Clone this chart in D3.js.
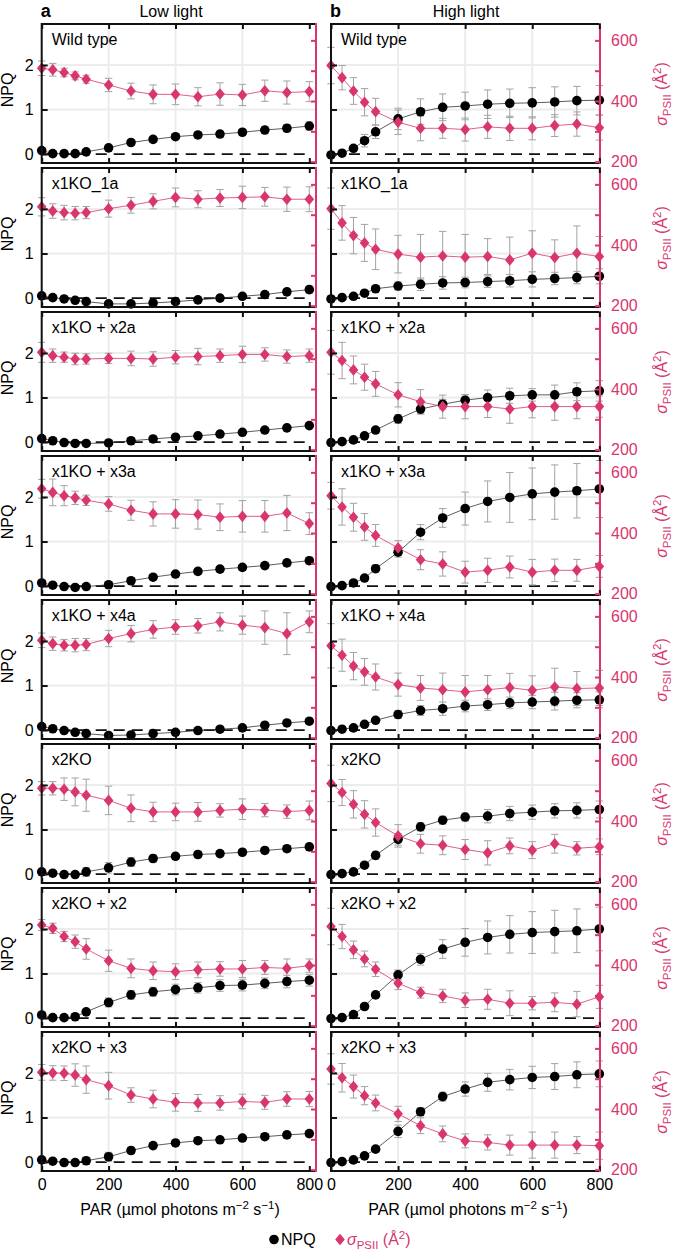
<!DOCTYPE html>
<html>
<head>
<meta charset="utf-8">
<script src="https://cdn.jsdelivr.net/npm/d3@7"></script>
<style>
body { margin: 0; background: #fff; }
text { font-family: "Liberation Sans", Arial, sans-serif; }
</style>
</head>
<body>
<svg id="chart" width="675" height="1250"></svg>
<script>
// light intensities (PAR)
var par = [0, 33, 67, 100, 133, 200, 267, 333, 400, 467, 533, 600, 667, 733, 800];
var strains = ["Wild type", "x1KO_1a", "x1KO + x2a", "x1KO + x3a", "x1KO + x4a", "x2KO", "x2KO + x2", "x2KO + x3"];

// low light, NPQ
var lowNPQ = [
  [0.08,0.01,0.01,0.01,0.05,0.14,0.26,0.33,0.39,0.43,0.45,0.49,0.54,0.58,0.63],
  [0.05,0.01,-0.02,-0.05,-0.08,-0.13,-0.13,-0.11,-0.08,-0.04,0,0.04,0.08,0.14,0.19],
  [0.08,0.03,-0.01,-0.03,-0.03,-0.02,0.03,0.07,0.11,0.14,0.18,0.22,0.27,0.32,0.37],
  [0.07,0.02,-0.01,-0.03,-0.01,0.03,0.12,0.2,0.27,0.33,0.38,0.42,0.46,0.52,0.57],
  [0.08,0.03,-0.01,-0.05,-0.08,-0.12,-0.11,-0.08,-0.05,-0.01,0.02,0.05,0.11,0.16,0.2],
  [0.05,0.02,-0.01,-0.01,0.05,0.14,0.27,0.35,0.4,0.44,0.46,0.49,0.53,0.57,0.61],
  [0.07,0.01,0.01,0.03,0.14,0.35,0.52,0.59,0.64,0.68,0.73,0.74,0.78,0.82,0.85],
  [0.05,0.02,-0.01,-0.01,0.03,0.12,0.26,0.37,0.43,0.48,0.5,0.54,0.57,0.61,0.64]
];
var lowNPQErr = [
  [0.02,0.01,0.01,0.01,0.02,0.04,0.05,0.06,0.06,0.06,0.07,0.07,0.08,0.08,0.09],
  [0.02,0.01,0.01,0.02,0.02,0.03,0.03,0.03,0.03,0.03,0.04,0.05,0.06,0.07,0.08],
  [0.02,0.01,0.01,0.01,0.01,0.02,0.02,0.03,0.03,0.03,0.03,0.03,0.04,0.04,0.05],
  [0.02,0.01,0.01,0.01,0.01,0.02,0.04,0.05,0.05,0.06,0.06,0.06,0.07,0.07,0.08],
  [0.02,0.01,0.01,0.01,0.02,0.02,0.02,0.03,0.03,0.03,0.03,0.03,0.04,0.04,0.05],
  [0.02,0.01,0.02,0.03,0.1,0.12,0.1,0.08,0.07,0.07,0.06,0.07,0.07,0.07,0.08],
  [0.02,0.01,0.02,0.03,0.05,0.1,0.1,0.1,0.12,0.12,0.13,0.13,0.12,0.14,0.13],
  [0.02,0.01,0.02,0.03,0.08,0.1,0.07,0.06,0.06,0.06,0.06,0.06,0.06,0.07,0.07]
];
// low light, sigma PSII (A^2)
var lowSigma = [
  [508,503,494,483,472,453,433,422,422,414,423,420,434,428,431],
  [526,512,507,505,507,520,531,544,557,551,555,557,559,551,551],
  [521,510,505,499,499,501,501,499,505,507,510,514,514,507,510],
  [546,534,523,516,508,496,475,463,463,461,452,455,455,466,431],
  [521,510,505,505,507,527,543,557,565,569,582,571,563,543,582],
  [508,508,505,496,485,468,442,430,430,430,435,439,436,431,435],
  [532,521,494,477,453,414,389,381,378,384,387,387,392,389,398],
  [521,519,518,512,497,477,446,433,422,420,420,425,422,433,433]
];
var lowSigmaErr = [
  [24,21,14,13,13,22,26,31,34,30,37,35,35,38,33],
  [30,24,24,22,20,28,26,25,31,28,28,37,31,40,41],
  [33,22,17,19,17,17,24,24,22,27,22,27,22,22,22],
  [31,44,33,22,17,24,33,40,47,48,44,52,52,58,36],
  [24,22,19,22,20,27,27,29,24,24,30,30,55,69,36],
  [22,22,37,46,53,47,44,32,29,31,22,34,22,22,31],
  [18,17,17,22,34,35,31,29,26,26,24,28,23,31,22],
  [26,24,24,37,45,44,24,29,29,28,24,24,23,24,25]
];

// high light, NPQ
var highNPQ = [
  [-0.02,0.02,0.13,0.3,0.5,0.79,0.95,1.05,1.08,1.12,1.14,1.15,1.17,1.2,1.21],
  [-0.02,0.01,0.04,0.11,0.21,0.27,0.31,0.34,0.35,0.37,0.39,0.42,0.44,0.46,0.49],
  [-0.01,0.01,0.05,0.14,0.27,0.52,0.74,0.85,0.94,1.0,1.04,1.06,1.06,1.13,1.15],
  [-0.01,0.01,0.07,0.18,0.39,0.76,1.21,1.53,1.74,1.9,1.99,2.07,2.11,2.14,2.18],
  [-0.01,0.02,0.05,0.13,0.22,0.35,0.44,0.48,0.54,0.57,0.61,0.63,0.65,0.67,0.68],
  [-0.01,0.01,0.05,0.2,0.42,0.78,1.06,1.21,1.28,1.3,1.36,1.39,1.42,1.43,1.45],
  [-0.01,0.01,0.08,0.26,0.52,0.97,1.32,1.55,1.7,1.81,1.88,1.92,1.94,1.96,2.0],
  [-0.01,0.01,0.05,0.14,0.29,0.69,1.13,1.47,1.64,1.79,1.85,1.9,1.92,1.96,1.98]
];
var highNPQErr = [
  [0.02,0.03,0.06,0.14,0.15,0.24,0.29,0.3,0.31,0.32,0.32,0.34,0.34,0.32,0.33],
  [0.02,0.02,0.03,0.05,0.06,0.09,0.14,0.14,0.12,0.13,0.14,0.17,0.14,0.14,0.17],
  [0.01,0.02,0.03,0.05,0.06,0.1,0.11,0.11,0.12,0.17,0.17,0.14,0.22,0.2,0.23],
  [0.01,0.02,0.03,0.05,0.09,0.11,0.17,0.21,0.37,0.46,0.56,0.58,0.61,0.61,0.64],
  [0.01,0.02,0.03,0.05,0.06,0.09,0.11,0.15,0.13,0.13,0.13,0.15,0.2,0.17,0.18],
  [0.01,0.02,0.03,0.05,0.09,0.13,0.09,0.09,0.09,0.15,0.16,0.16,0.16,0.17,0.19],
  [0.01,0.02,0.03,0.05,0.06,0.11,0.13,0.21,0.31,0.37,0.42,0.47,0.48,0.49,0.49],
  [0.01,0.02,0.03,0.05,0.06,0.14,0.09,0.1,0.16,0.2,0.23,0.25,0.29,0.29,0.29]
];
// high light, sigma PSII (A^2)
var highSigma = [
  [517,477,433,396,365,330,310,310,306,315,310,310,319,324,312],
  [520,473,431,407,386,370,360,364,360,362,351,373,359,373,362],
  [521,494,463,439,417,381,358,342,342,342,334,342,342,342,342],
  [523,486,452,420,392,351,312,298,271,277,288,271,277,277,290],
  [503,472,436,417,400,375,364,358,351,358,365,356,367,362,364],
  [524,494,455,422,395,351,325,320,306,295,318,304,325,310,315],
  [527,494,450,420,386,340,309,298,284,287,274,274,277,271,295],
  [532,503,474,444,420,384,345,318,295,290,281,281,281,281,279]
];
var highSigmaErr = [
  [60,40,44,45,44,40,41,33,38,38,40,38,36,40,41],
  [68,57,60,61,67,62,75,81,75,59,75,74,58,90,66],
  [72,60,46,43,41,40,40,38,40,36,47,37,45,40,35],
  [44,60,46,44,36,24,33,40,36,40,36,42,37,36,36],
  [73,53,45,44,43,38,41,55,54,47,47,48,62,56,58],
  [60,43,45,45,45,37,31,31,33,40,26,28,31,22,26],
  [60,40,29,26,24,21,18,22,24,33,41,22,31,42,38],
  [50,47,38,30,26,25,26,26,23,25,33,43,43,28,45]
];

var xTicks = [0, 200, 400, 600, 800];
var npqTicks = [0, 1, 2];
var sigmaTicks = [200, 300, 400, 500, 600];

var pink = "#d8366c";
var gridColor = "#ececec";
var errColor = "#a3a3a3";
var panelTop = 24, panelH = 139, pitch = 144;
var fs = 16;

var svg = d3.select("#chart");

var cols = [
  {tag: "a", title: "Low light", left: 41.7, right: 316, xmax: 820, titleX: 171, parX: 180,
   npq: lowNPQ, npqErr: lowNPQErr, sig: lowSigma, sigErr: lowSigmaErr},
  {tag: "b", title: "High light", left: 331, right: 600, xmax: 802, titleX: 466, parX: 468,
   npq: highNPQ, npqErr: highNPQErr, sig: highSigma, sigErr: highSigmaErr}
];

var diamond = "M0,-5.8L4.8,0L0,5.8L-4.8,0Z";

function errBars(g, vals, errs, x, y) {
  var eb = g.append("g").attr("stroke", errColor).attr("stroke-width", 1);
  par.forEach(function(p, i) {
    var cx = x(p), y1 = y(vals[i] - errs[i]), y2 = y(vals[i] + errs[i]);
    eb.append("line").attr("x1", cx).attr("x2", cx).attr("y1", y1).attr("y2", y2);
    eb.append("line").attr("x1", cx - 3.7).attr("x2", cx + 3.7).attr("y1", y1).attr("y2", y1);
    eb.append("line").attr("x1", cx - 3.7).attr("x2", cx + 3.7).attr("y1", y2).attr("y2", y2);
  });
}

function sigmaLabel(t) {
  t.append("tspan").attr("font-style", "italic").text("σ");
  t.append("tspan").attr("font-size", 11.5).attr("dy", 4).text("PSII");
  t.append("tspan").attr("dy", -4).text(" (Å");
  t.append("tspan").attr("font-size", 11.5).attr("dy", -6).text("2");
  t.append("tspan").attr("dy", 6).text(")");
}

cols.forEach(function(c, ci) {
  // column header
  svg.append("text").attr("x", c.left - 1).attr("y", 17).attr("font-size", 18)
    .attr("font-weight", "bold").text(c.tag);
  svg.append("text").attr("x", c.titleX).attr("y", 17).attr("font-size", fs)
    .attr("text-anchor", "middle").text(c.title);

  strains.forEach(function(name, i) {
    var top = panelTop + i * pitch, bottom = top + panelH;
    var x = d3.scaleLinear().domain([0, c.xmax]).range([c.left, c.right]);
    var y = d3.scaleLinear().domain([-0.2, 2.92]).range([bottom, top]);
    var ys = d3.scaleLinear().domain([195.6, 654]).range([bottom, top]);
    var g = svg.append("g");

    // grid
    g.selectAll(".gx").data([200, 400, 600]).join("line")
      .attr("x1", x).attr("x2", x).attr("y1", top).attr("y2", bottom)
      .attr("stroke", gridColor).attr("stroke-width", 2);
    g.selectAll(".gy").data([1, 2]).join("line")
      .attr("x1", c.left).attr("x2", c.right).attr("y1", y).attr("y2", y)
      .attr("stroke", gridColor).attr("stroke-width", 2);

    // zero line
    g.append("line").attr("x1", x(0)).attr("x2", x(800)).attr("y1", y(0)).attr("y2", y(0))
      .attr("stroke", "#111").attr("stroke-width", 1.6).attr("stroke-dasharray", "11,7");

    // error bars
    errBars(g, c.npq[i], c.npqErr[i], x, y);
    errBars(g, c.sig[i], c.sigErr[i], x, ys);

    // lines
    g.append("path").datum(c.npq[i])
      .attr("d", d3.line().x(function(d, k) { return x(par[k]); }).y(function(d) { return y(d); }))
      .attr("fill", "none").attr("stroke", "#333").attr("stroke-width", 0.8);
    g.append("path").datum(c.sig[i])
      .attr("d", d3.line().x(function(d, k) { return x(par[k]); }).y(function(d) { return ys(d); }))
      .attr("fill", "none").attr("stroke", pink).attr("stroke-width", 0.8);

    // markers
    g.selectAll(".npq").data(c.npq[i]).join("circle")
      .attr("cx", function(d, k) { return x(par[k]); }).attr("cy", function(d) { return y(d); })
      .attr("r", 4.8).attr("fill", "#000");
    g.selectAll(".sig").data(c.sig[i]).join("path")
      .attr("d", diamond)
      .attr("transform", function(d, k) { return "translate(" + x(par[k]) + "," + ys(d) + ")"; })
      .attr("fill", pink);

    // frame
    g.append("path")
      .attr("d", "M" + c.right + "," + top + "H" + c.left + "V" + bottom + "H" + c.right)
      .attr("fill", "none").attr("stroke", "#111").attr("stroke-width", 2);
    g.append("line").attr("x1", c.right).attr("x2", c.right).attr("y1", top - 1).attr("y2", bottom + 1)
      .attr("stroke", pink).attr("stroke-width", 2);

    // axes
    var ax = g.append("g").attr("transform", "translate(" + c.left + ",0)")
      .call(d3.axisLeft(y).tickValues(npqTicks).tickSizeInner(-6).tickSizeOuter(0).tickPadding(8)
        .tickFormat(ci === 0 ? d3.format("d") : ""));
    var bx = g.append("g").attr("transform", "translate(0," + bottom + ")")
      .call(d3.axisBottom(x).tickValues(xTicks).tickSizeInner(-5).tickSizeOuter(0).tickPadding(8)
        .tickFormat(i === strains.length - 1 ? d3.format("d") : ""));
    var tx = g.append("g").attr("transform", "translate(0," + top + ")")
      .call(d3.axisTop(x).tickValues(xTicks).tickSizeInner(-5).tickSizeOuter(0).tickFormat(""));
    var rx = g.append("g").attr("transform", "translate(" + c.right + ",0)")
      .call(d3.axisRight(ys).tickValues(sigmaTicks).tickSizeInner(-5).tickSizeOuter(0).tickPadding(11)
        .tickFormat(function(d) { return ci === 1 && d % 200 === 0 ? d : ""; }));

    [ax, bx, tx, rx].forEach(function(a) {
      a.select(".domain").remove();
      a.attr("font-size", fs).attr("font-family", "Liberation Sans, Arial, sans-serif");
      a.selectAll("line").attr("stroke-width", 2);
    });
    ax.selectAll("line").attr("stroke", "#111");
    bx.selectAll("line").attr("stroke", "#111");
    tx.selectAll("line").attr("stroke", "#111");
    rx.selectAll("line").attr("stroke", pink);
    rx.selectAll("text").attr("fill", pink);

    // strain label
    g.append("text").attr("x", c.left + 10).attr("y", top + 21).attr("font-size", fs).text(name);

    // y titles
    if (ci === 0) {
      g.append("text").attr("transform", "translate(13," + (top + 66) + ") rotate(-90)")
        .attr("text-anchor", "middle").attr("font-size", fs).text("NPQ");
    } else {
      var st = g.append("text").attr("transform", "translate(667," + (top + 70) + ") rotate(-90)")
        .attr("text-anchor", "middle").attr("font-size", fs).attr("fill", pink);
      sigmaLabel(st);
    }
  });

  // x title
  var pt = svg.append("text").attr("x", c.parX).attr("y", 1215).attr("font-size", fs)
    .attr("text-anchor", "middle");
  pt.append("tspan").text("PAR (µmol photons m");
  pt.append("tspan").attr("font-size", 11.5).attr("dy", -6).text("−2");
  pt.append("tspan").attr("dy", 6).text(" s");
  pt.append("tspan").attr("font-size", 11.5).attr("dy", -6).text("−1");
  pt.append("tspan").attr("dy", 6).text(")");
});

// legend
svg.append("circle").attr("cx", 274).attr("cy", 1239.5).attr("r", 4.8).attr("fill", "#000");
svg.append("text").attr("x", 281).attr("y", 1245).attr("font-size", fs).text("NPQ");
svg.append("path").attr("d", diamond).attr("transform", "translate(340,1239.5)").attr("fill", pink);
var lg = svg.append("text").attr("x", 347).attr("y", 1245).attr("font-size", fs).attr("fill", pink);
sigmaLabel(lg);
</script>
</body>
</html>
